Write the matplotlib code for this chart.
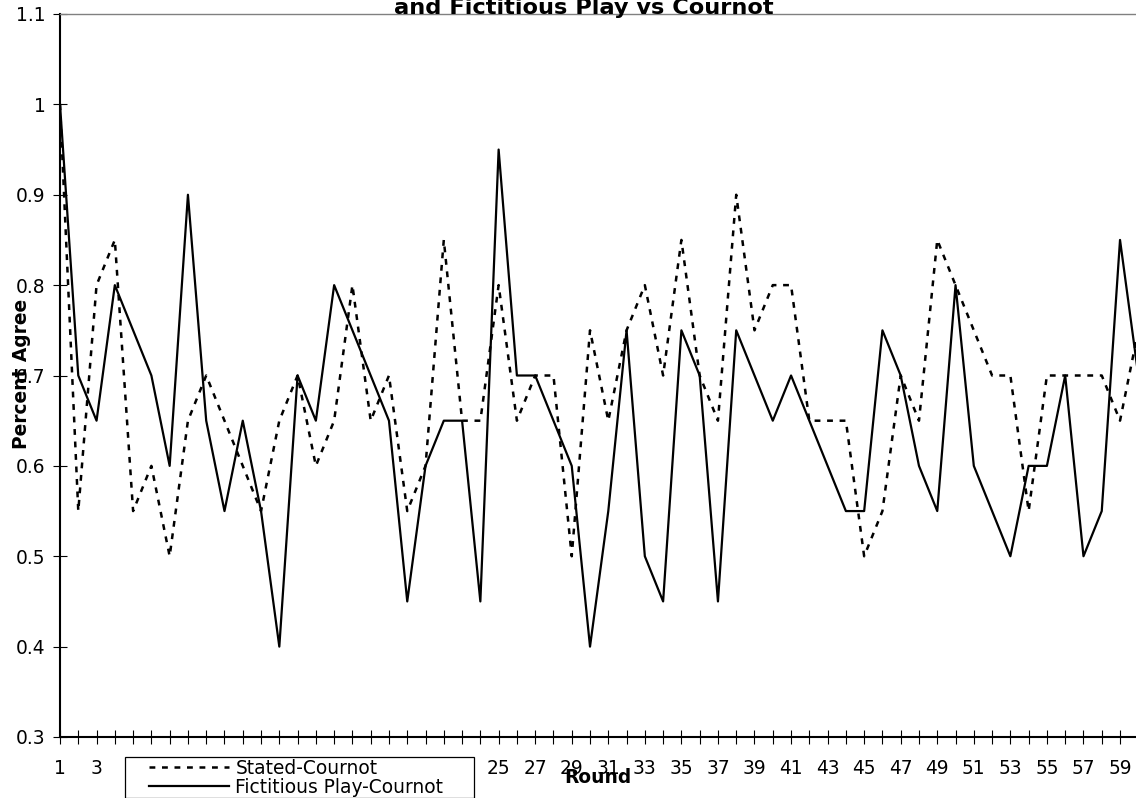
import matplotlib
matplotlib.use("Agg")
import matplotlib.pyplot as plt
from matplotlib.legend_handler import HandlerLine2D

rounds = list(range(1, 61))
stated = [1.0, 0.55, 0.8, 0.85, 0.55, 0.6, 0.5, 0.65, 0.7, 0.65,
          0.6, 0.55, 0.65, 0.7, 0.6, 0.65, 0.8, 0.65, 0.7, 0.55,
          0.6, 0.85, 0.65, 0.65, 0.8, 0.65, 0.7, 0.7, 0.5, 0.75,
          0.65, 0.75, 0.8, 0.7, 0.85, 0.7, 0.65, 0.9, 0.75, 0.8,
          0.8, 0.65, 0.65, 0.65, 0.5, 0.55, 0.7, 0.65, 0.85, 0.8,
          0.75, 0.7, 0.7, 0.55, 0.7, 0.7, 0.7, 0.7, 0.65, 0.75]
fictitious = [1.0, 0.7, 0.65, 0.8, 0.75, 0.7, 0.6, 0.9, 0.65, 0.55,
              0.65, 0.55, 0.4, 0.7, 0.65, 0.8, 0.75, 0.7, 0.65, 0.45,
              0.6, 0.65, 0.65, 0.45, 0.95, 0.7, 0.7, 0.65, 0.6, 0.4,
              0.55, 0.75, 0.5, 0.45, 0.75, 0.7, 0.45, 0.75, 0.7, 0.65,
              0.7, 0.65, 0.6, 0.55, 0.55, 0.75, 0.7, 0.6, 0.55, 0.8,
              0.6, 0.55, 0.5, 0.6, 0.6, 0.7, 0.5, 0.55, 0.85, 0.7]
y_ticks = [0.3, 0.4, 0.5, 0.6, 0.7, 0.8, 0.9, 1.0, 1.1]
y_tick_labels = ["0.3", "0.4", "0.5", "0.6", "0.7", "0.8", "0.9", "1", "1.1"]
x_tick_labels = [str(r) if r % 2 == 1 else "" for r in rounds]
series_names = ["Stated-Cournot", "Fictitious Play-Cournot"]
title_line = "and Fictitious Play vs Cournot"
x_label = "Round"
y_label = "Percent Agree"

plt.rcParams["font.family"] = ["DejaVu Sans"]
plt.rcParams["lines.scale_dashes"] = False

W, H = 1136, 798
fig = plt.figure(figsize=(W / 100, H / 100), dpi=100)
fs = 13.4

left_px, right_px, top_px, bottom_px = 60, 1138.3, 14, 737
ax = fig.add_axes([left_px / W, 1 - bottom_px / H,
                   (right_px - left_px) / W, (bottom_px - top_px) / H])

ax.plot(rounds, stated, color="black", lw=1.8, dashes=(4.2, 4.8),
        label=series_names[0], solid_capstyle="butt", dash_capstyle="butt")
ax.plot(rounds, fictitious, color="black", lw=1.6, label=series_names[1])

ax.set_xlim(1, 60)
ax.set_ylim(0.3, 1.1)
ax.set_xticks(rounds)
ax.set_xticklabels(x_tick_labels)
ax.set_yticks(y_ticks)
ax.set_yticklabels(y_tick_labels)
ax.tick_params(axis="x", direction="inout", length=9.5, width=0.8,
               labelsize=fs, pad=11.0, colors="black")
ax.tick_params(axis="y", direction="inout", length=10, width=0.8,
               labelsize=fs, pad=5.5, colors="black")

for side in ["left", "bottom"]:
    ax.spines[side].set_color("black")
    ax.spines[side].set_linewidth(1.5)
ax.spines["top"].set_color("#808080")
ax.spines["top"].set_linewidth(1.0)
ax.spines["right"].set_visible(False)
ax.set_clip_on(False)

fig.text(583.5 / W, 1 - 14 / H, title_line, ha="center", va="baseline",
         fontsize=16.2, fontweight="bold")
fig.text(598 / W, 1 - 783 / H, x_label, ha="center", va="baseline",
         fontsize=fs, fontweight="bold")
fig.text(21.5 / W, 1 - 374 / H, y_label, ha="center", va="center",
         rotation=90, fontsize=fs, fontweight="bold")

fpx = fs * 100 / 72.0
handles, labels = ax.get_legend_handles_labels()
labels = [labels[0], labels[1] + "     "]
leg = fig.legend(handles, labels, loc="lower left",
                 bbox_to_anchor=(125 / W, 0.0), bbox_transform=fig.transFigure,
                 fontsize=fs, frameon=True, fancybox=False, shadow=False,
                 borderpad=0.08, labelspacing=0.0,
                 handlelength=(230 - 127) / fpx, handletextpad=6 / fpx,
                 borderaxespad=0.0,
                 handler_map={h: HandlerLine2D(xpad=23 / fpx) for h in handles})
leg.get_frame().set_edgecolor("black")
leg.get_frame().set_linewidth(0.9)
leg.get_frame().set_facecolor("white")
leg.get_frame().set_alpha(1.0)

fig.savefig("out.png", dpi=100)
